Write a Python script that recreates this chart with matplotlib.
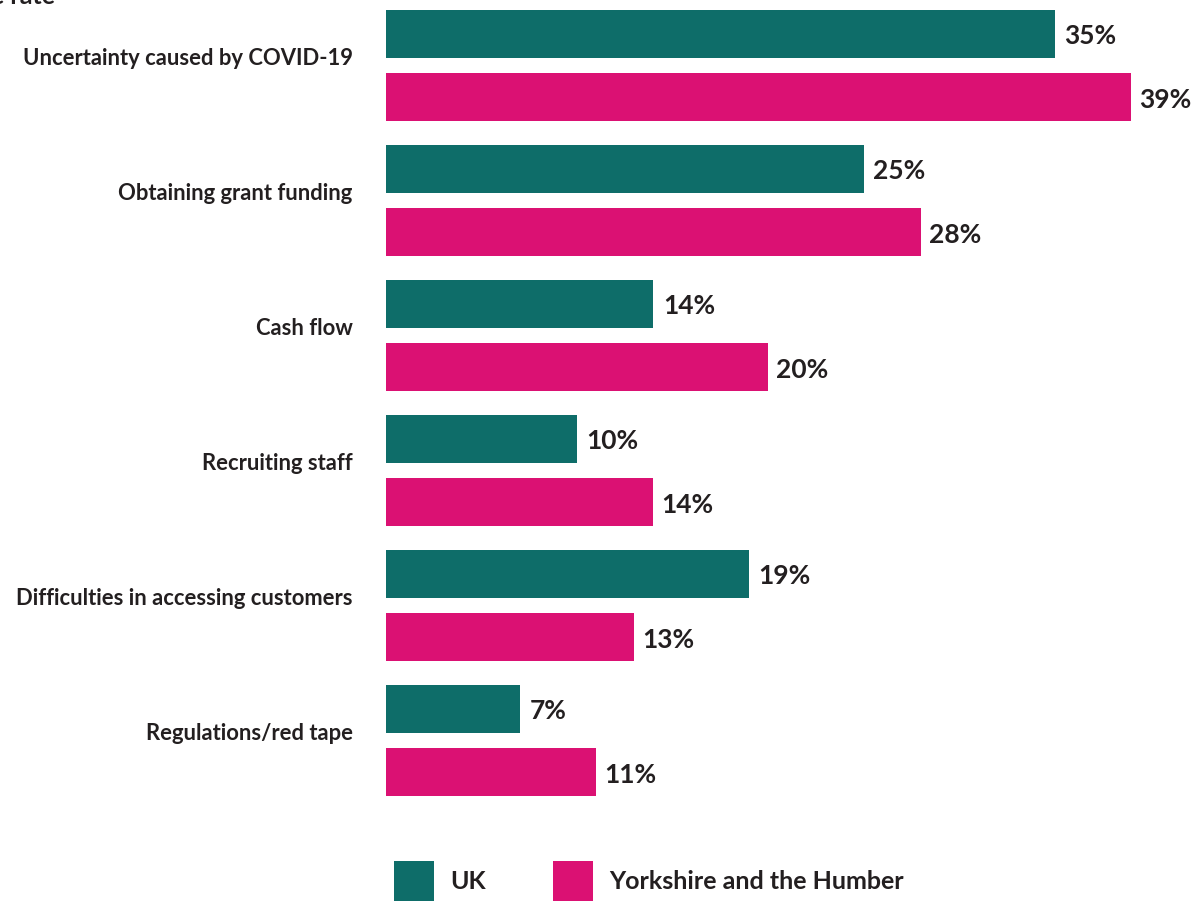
import matplotlib
matplotlib.use("Agg")
import matplotlib.pyplot as plt
import numpy as np
from matplotlib.patches import Patch

categories = [
    "Uncertainty caused by COVID-19",
    "Obtaining grant funding",
    "Cash flow",
    "Recruiting staff",
    "Difficulties in accessing customers",
    "Regulations/red tape",
]
uk_values = [35, 25, 14, 10, 19, 7]
yorkshire_values = [39, 28, 20, 14, 13, 11]
series_names = ["UK", "Yorkshire and the Humber"]

TEAL = "#0e6d69"
MAGENTA = "#db1173"
TEXT = "#231f20"
FONT = "Lato"
WEIGHT = "bold"

fig = plt.figure(figsize=(12.02, 9.02), dpi=100)
W, H = 1202, 902
ax = fig.add_axes([386 / W, 1 - 830 / H, 1 - 386 / W, 830 / H])

y = np.arange(len(categories))
bar_h = 48 / 135
offset = 63 / 135

ax.barh(y, uk_values, height=bar_h, color=TEAL, align="center")
ax.barh(y + offset, yorkshire_values, height=bar_h, color=MAGENTA, align="center")

ax.set_xlim(0, (W - 386) / 19.1)
ax.set_ylim((830 - 34) / 135, -34 / 135)

for yi, v in zip(y, uk_values):
    ax.annotate(f"{v}%", (v, yi), xytext=(7, -1.5), textcoords="offset points",
                va="center", ha="left", fontsize=19, color=TEXT,
                family=FONT, weight=WEIGHT)
for yi, v in zip(y + offset, yorkshire_values):
    ax.annotate(f"{v}%", (v, yi), xytext=(6, -2), textcoords="offset points",
                va="center", ha="left", fontsize=19, color=TEXT,
                family=FONT, weight=WEIGHT)

ax.set_yticks(y + offset / 2 - 9 / 135)
ax.set_yticklabels(categories, fontsize=15.8, color=TEXT, family=FONT,
                   weight=WEIGHT)
ax.tick_params(axis="y", length=0, pad=24)
ax.set_xticks([])
for s in ax.spines.values():
    s.set_visible(False)

# Chart title running off the top edge
fig.text(55 / W, 1 - 4 / H, "e rate", ha="right", va="baseline",
         fontsize=18, color=TEXT, family=FONT, weight=WEIGHT)

handles = [Patch(facecolor=TEAL), Patch(facecolor=MAGENTA)]
fig.legend(handles, series_names, loc="lower left",
           bbox_to_anchor=(394 / W, 1 / H), ncol=2, frameon=False,
           prop={"family": FONT, "weight": WEIGHT, "size": 18},
           handlelength=1.6, handleheight=2.1, handletextpad=0.65,
           columnspacing=2.7, borderpad=0, borderaxespad=0)
for t in fig.legends[0].get_texts():
    t.set_color(TEXT)

fig.savefig("out.png", dpi=100, facecolor="white")
